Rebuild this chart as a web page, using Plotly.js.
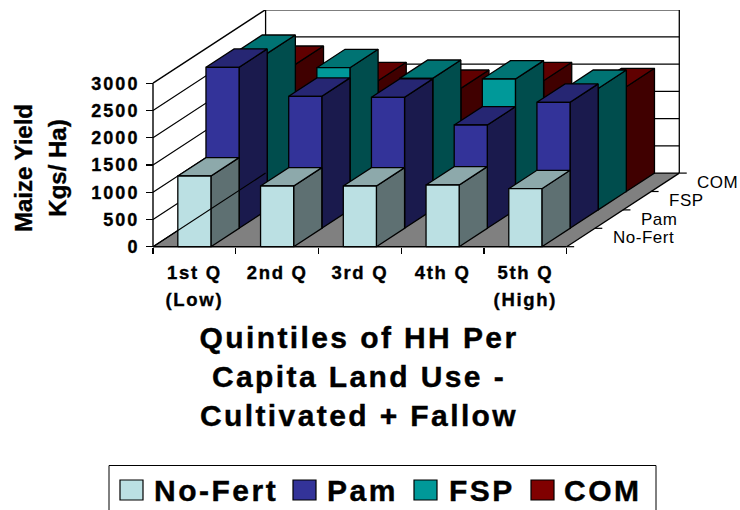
<!DOCTYPE html>
<html>
<head>
<meta charset="utf-8">
<script src="https://cdn.plot.ly/plotly-3.0.1.min.js"></script>
<style>
html,body{margin:0;padding:0;background:#fff}
#chart{width:740px;height:510px}
.xtick text{letter-spacing:1.7px;stroke:#000;stroke-width:.35px}
.ytick text{letter-spacing:2px;stroke:#000;stroke-width:.35px}
.g-xtitle text{letter-spacing:2.4px;stroke:#000;stroke-width:.4px}
.g-ytitle text{letter-spacing:0;stroke:#000;stroke-width:.35px}
.annotation-text{letter-spacing:0.5px}
.annotation:nth-last-child(-n+4) .annotation-text{letter-spacing:2.5px;stroke:#000;stroke-width:.4px}
</style>
</head>
<body>
<div id="chart"></div>
<script>
// ---- data ----
const quintiles = ['1st Q<br>(Low)', '2nd Q', '3rd Q', '4th Q', '5th Q<br>(High)'];
const seriesNames = ['No-Fert', 'Pam', 'FSP', 'COM'];
const noFert = [1297, 1114, 1114, 1132, 1064];
const pam    = [2954, 2422, 2404, 1895, 2312];
const fsp    = [2872, 2609, 2413, 2402, 2229];
const com    = [2332, 2033, 1892, 2033, 1923];
const yTicks = [0, 500, 1000, 1500, 2000, 2500, 3000];
const yMax = 3000;

// ---- colours: front, top, side ----
const faceColors = [
  ['#BBE0E3', '#8DA9AB', '#5E7072'],
  ['#333399', '#262673', '#1A1A4D'],
  ['#009999', '#007373', '#004D4D'],
  ['#800000', '#600000', '#400000']
];
const allValues = [noFert, pam, fsp, com];

// ---- oblique projection: each depth slot shifts x and y ----
const depthX = 0.3402, depthY = 337.6, slots = 4;
const barOffset = 0.3, barWidth = 0.4;
const nCat = quintiles.length;
const wallTop = yMax + slots * depthY;
const wallRight = nCat + slots * depthX;

function poly(pts, xs, ys) {
  pts.forEach(p => { xs.push(p[0]); ys.push(p[1]); });
  xs.push(pts[0][0], null); ys.push(pts[0][1], null);
}
function faceTrace(xs, ys, fill, name) {
  return {type:'scatter', mode:'lines', x:xs, y:ys, fill:'toself', fillcolor:fill,
          line:{color:'#000', width:1.3}, hoverinfo:'skip', showlegend:false, name:name};
}
function lineTrace(xs, ys, w) {
  return {type:'scatter', mode:'lines', x:xs, y:ys, line:{color:'#000', width:w},
          hoverinfo:'skip', showlegend:false};
}

const traces = [];
// floor
traces.push({type:'scatter', mode:'lines', x:[0,nCat,wallRight,slots*depthX,0], y:[0,0,slots*depthY,slots*depthY,0],
  fill:'toself', fillcolor:'#808080', line:{color:'rgba(0,0,0,0)',width:0}, hoverinfo:'skip', showlegend:false});
// wall grid lines
{
  const xs = [], ys = [];
  yTicks.forEach(v => {
    if (v === yMax) return;
    xs.push(0, slots*depthX, wallRight, null);
    ys.push(v, v + slots*depthY, v + slots*depthY, null);
  });
  traces.push(lineTrace(xs, ys, 1.2));
}
// verticals & frame
traces.push(lineTrace([slots*depthX, slots*depthX], [slots*depthY, wallTop], 1.3));
traces.push(lineTrace([wallRight, wallRight], [slots*depthY, wallTop], 1.3));
traces.push(lineTrace([0, slots*depthX], [yMax, wallTop], 1.4));
traces.push(lineTrace([slots*depthX, wallRight], [wallTop, wallTop], 2));
traces.push(lineTrace([nCat, wallRight], [0, slots*depthY], 1.3));

// bars, back to front
for (let s = slots - 1; s >= 0; s--) {
  const fx=[],fy=[],tx=[],ty=[],sx=[],sy=[];
  allValues[s].forEach((v,c) => {
    const x0 = c + barOffset + s*depthX, x1 = x0 + barWidth;
    const y0 = s*depthY, y1 = y0 + v;
    poly([[x0,y0],[x1,y0],[x1,y1],[x0,y1]], fx, fy);
    poly([[x0,y1],[x1,y1],[x1+depthX,y1+depthY],[x0+depthX,y1+depthY]], tx, ty);
    poly([[x1,y0],[x1+depthX,y0+depthY],[x1+depthX,y1+depthY],[x1,y1]], sx, sy);
  });
  traces.push(faceTrace(sx, sy, faceColors[s][2], seriesNames[s]+' side'));
  traces.push(faceTrace(tx, ty, faceColors[s][1], seriesNames[s]+' top'));
  traces.push(faceTrace(fx, fy, faceColors[s][0], seriesNames[s]));
}
// axis lines in front
traces.push(lineTrace([0, nCat], [0, 0], 1.6));
traces.push(lineTrace([0, 0], [0, yMax], 1.4));
traces.push(lineTrace([0, slots*depthX], [0, slots*depthY], 1.2));

const depthTickX = [], depthTickY = [];
for (let i = 0; i <= slots; i++) {
  depthTickX.push(nCat + i*depthX, nCat + i*depthX + 0.09, null);
  depthTickY.push(i*depthY, i*depthY, null);
}
traces.push(lineTrace(depthTickX, depthTickY, 1.2));

// depth axis labels
const annotations = seriesNames.map((n,i) => ({
  xref:'x', yref:'y', x:nCat + (i+0.5)*depthX, y:(i+0.5)*depthY,
  text:n, showarrow:false, xanchor:'left', yanchor:'middle', xshift:30,
  font:{family:'Liberation Sans, Arial, sans-serif', size:17, color:'#000'}
}));

// legend (paper pixels)
const W = 740, H = 510;
const mL = 2, mR = 24, mT = 10, mB = 184;
const PW = W-mL-mR, PH = H-mT-mB;
const px = x => (x-mL)/PW, py = y => 1-(y-mT)/PH;
const legendBox = {x0:109, x1:656, y0:465.5, y1:514};
const legendSwatch = [120, 293, 414, 531];
const legendLabel = [159, 328, 450, 565];
const swatchW = 23, swatchH = 20, legendMid = 490;
const shapes = [{type:'rect', xref:'paper', yref:'paper', x0:px(legendBox.x0), x1:px(legendBox.x1), y0:py(legendBox.y0), y1:py(legendBox.y1),
  line:{color:'#000', width:1}, fillcolor:'#fff'}];
seriesNames.forEach((n,i) => {
  shapes.push({type:'rect', xref:'paper', yref:'paper', x0:px(legendSwatch[i]), x1:px(legendSwatch[i]+swatchW),
    y0:py(legendMid-swatchH/2), y1:py(legendMid+swatchH/2), line:{color:'#000', width:1.2}, fillcolor:faceColors[i][0]});
  annotations.push({xref:'paper', yref:'paper', x:px(legendLabel[i]), y:py(legendMid+0.5), text:'<b>'+n+'</b>', showarrow:false,
    xanchor:'left', yanchor:'middle', font:{family:'Liberation Sans, Arial, sans-serif', size:30, color:'#000'}});
});

const bold = 'Liberation Sans, Arial, sans-serif';
const pxPerUnitX = 82.74, pxPerUnitY = 0.0545, x0Px = 153, y0Px = 246.7;
const layout = {
  width:W, height:H, paper_bgcolor:'#fff', plot_bgcolor:'#fff', showlegend:false,
  margin:{l:mL, r:mR, t:mT, b:mB, pad:0},
  xaxis:{
    range:[(mL-x0Px)/pxPerUnitX, (W-mR-x0Px)/pxPerUnitX],
    anchor:'free', position:(mT+PH-y0Px)/PH,
    showgrid:false, zeroline:false, showline:false, fixedrange:true,
    tickmode:'array', tickvals:quintiles.map((q,i)=>i+0.5), ticktext:quintiles, ticks:'', tickangle:0,
    ticklabelstandoff:13,
    tickfont:{family:bold, size:18.5, color:'#000', weight:'bold'},
    minor:{tickmode:'array', tickvals:[0,1,2,3,4,5], ticks:'outside', ticklen:6, tickwidth:1.2, tickcolor:'#000', showgrid:false},
    title:{text:'Quintiles of HH Per<br>Capita Land Use -<br>Cultivated + Fallow', standoff:20,
      font:{family:bold, size:30, color:'#000', weight:'bold'}}
  },
  yaxis:{
    range:[(y0Px-(mT+PH))/pxPerUnitY, (y0Px-mT)/pxPerUnitY],
    anchor:'free', position:(x0Px-mL)/PW,
    showgrid:false, zeroline:false, showline:false, fixedrange:true,
    tickmode:'array', tickvals:yTicks, ticks:'outside', ticklen:7, tickwidth:1.2, tickcolor:'#000',
    ticklabelstandoff:3,
    tickfont:{family:bold, size:18, color:'#000', weight:'bold'},
    title:{text:'Maize Yield<br>Kgs/ Ha)', standoff:19,
      font:{family:bold, size:24, color:'#000', weight:'bold'}}
  },
  annotations:annotations, shapes:shapes
};
Plotly.newPlot('chart', traces, layout, {displayModeBar:false, staticPlot:true}).then(() => {
  document.querySelectorAll('.xtick text tspan.line').forEach(t => {
    if (parseFloat(t.getAttribute('dy')) > 0) t.setAttribute('dy', '1.45em');
  });
  document.querySelectorAll('.g-ytitle text tspan.line').forEach(t => {
    if (parseFloat(t.getAttribute('dy')) > 0) t.setAttribute('dy', '1.42em');
  });
});
</script>
</body>
</html>
